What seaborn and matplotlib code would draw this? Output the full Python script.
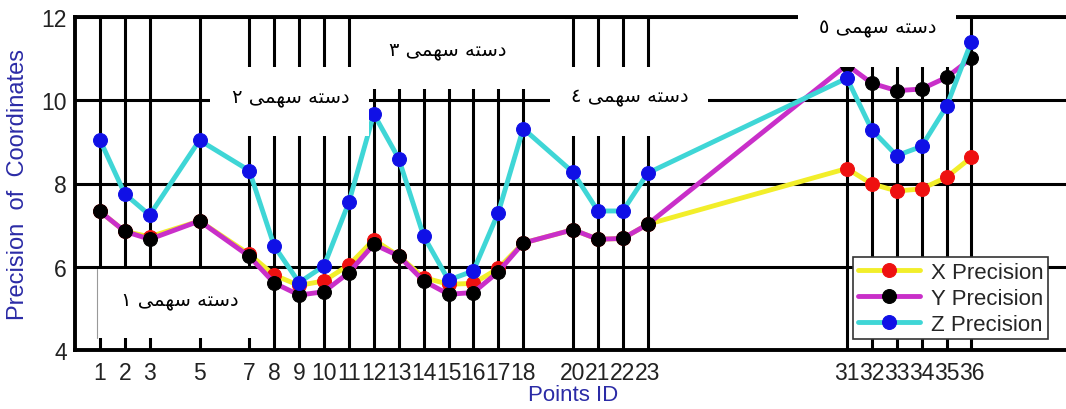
import matplotlib
matplotlib.use("Agg")
import matplotlib.pyplot as plt
import seaborn as sns
import pandas as pd
from matplotlib.patches import Rectangle

# --- DATA ---
point_ids = [1, 2, 3, 5, 7, 8, 9, 10, 11, 12, 13, 14, 15, 16, 17, 18,
             20, 21, 22, 23, 31, 32, 33, 34, 35, 36]
x_precision = [7.33, 6.85, 6.72, 7.10, 6.30, 5.80, 5.55, 5.66, 6.04, 6.65, 6.26, 5.74, 5.58,
               5.60, 5.96, 6.57, 6.89, 6.66, 6.68, 7.02, 8.36, 7.99, 7.82, 7.87, 8.15, 8.63]
y_precision = [7.33, 6.85, 6.66, 7.10, 6.25, 5.61, 5.32, 5.40, 5.86, 6.54, 6.26, 5.66, 5.34,
               5.38, 5.88, 6.57, 6.89, 6.66, 6.68, 7.02, 10.85, 10.41, 10.23, 10.27, 10.55, 11.01]
z_precision = [9.05, 7.75, 7.24, 9.04, 8.31, 6.50, 5.62, 6.02, 7.55, 9.67, 8.60, 6.74, 5.68,
               5.90, 7.30, 9.32, 8.27, 7.34, 7.34, 8.25, 10.53, 9.29, 8.67, 8.89, 9.85, 11.41]
y_ticks = [4, 6, 8, 10, 12]

# group labels and where their white boxes sit (data coords)
group_labels = ["دسته سهمی ١", "دسته سهمی ٢", "دسته سهمی ٣", "دسته سهمی ٤", "دسته سهمی ٥"]
group_text_xy = [(4.22, 5.22), (8.67, 10.1), (14.98, 11.23), (22.29, 10.1), (32.25, 11.74)]
group_boxes = [(0.88, 4.3, 6.43, 1.65), (5.42, 9.14, 6.39, 1.66), (11.81, 10.27, 7.87, 1.68),
               (19.08, 9.14, 6.34, 1.66), (29.04, 10.8, 6.34, 1.65)]

# matplotlib has no arabic shaping, so pick the joined glyph forms by hand
FORMS = {
    'د': ('\ufea9', '\ufeaa', None, None),
    'س': ('\ufeb1', '\ufeb2', '\ufeb3', '\ufeb4'),
    'ت': ('\ufe95', '\ufe96', '\ufe97', '\ufe98'),
    'ه': ('\ufee9', '\ufeea', '\ufeeb', '\ufeec'),
    'م': ('\ufee1', '\ufee2', '\ufee3', '\ufee4'),
    'ی': ('\ufbfc', '\ufbfd', '\ufbfe', '\ufbff'),
}

def shape(text):
    out = []
    for i, ch in enumerate(text):
        if ch not in FORMS:
            out.append(ch)
            continue
        prev = text[i - 1] if i > 0 else ''
        nxt = text[i + 1] if i + 1 < len(text) else ''
        joins_prev = prev in FORMS and FORMS[prev][2] is not None
        joins_next = nxt in FORMS and FORMS[ch][2] is not None
        iso, fin, ini, med = FORMS[ch]
        if joins_prev and joins_next:
            out.append(med)
        elif joins_prev:
            out.append(fin)
        elif joins_next:
            out.append(ini)
        else:
            out.append(iso)
    return ''.join(out)[::-1]


df = pd.DataFrame({'id': point_ids, 'X Precision': x_precision,
                   'Y Precision': y_precision, 'Z Precision': z_precision})

sns.set_theme(style="white")
plt.rcParams['font.family'] = ['Liberation Sans', 'DejaVu Sans']

fig = plt.figure(figsize=(10.66, 4.10), dpi=100)
ax = fig.add_axes([75 / 1066, 59 / 410, 996 / 1066, 333 / 410])

styles = [('X Precision', '#f2ee2a', '#ee1010'),
          ('Y Precision', '#c92fc9', '#000000'),
          ('Z Precision', '#3fd6d6', '#1010e6')]
for col, line_c, mark_c in styles:
    sns.lineplot(data=df, x='id', y=col, ax=ax, color=line_c, linewidth=3.5,
                 marker='o', markersize=10, markerfacecolor=mark_c,
                 markeredgecolor=mark_c, label=col, zorder=3)

ax.set_xlim(0, 40)
ax.set_ylim(4, 12)
ax.set_xticks(point_ids)
ax.set_xticklabels([str(i) for i in point_ids])
ax.set_yticks(y_ticks)
ax.set_axisbelow(True)
ax.grid(True, color='black', linewidth=2.2)
ax.tick_params(axis='both', direction='in', length=8, width=3, color='black',
               labelsize=16.5, labelcolor='#222222')
ax.tick_params(axis='x', pad=8)
ax.tick_params(axis='y', pad=6)
for side in ['left', 'bottom', 'top']:
    ax.spines[side].set_color('black')
    ax.spines[side].set_linewidth(2.8)
ax.spines['right'].set_visible(False)

ax.set_xlabel('Points ID', fontsize=16, color='#2b2ba6', labelpad=0)
ax.set_ylabel('Precision  of  Coordinates', fontsize=17, color='#2b2ba6', labelpad=9)

# white label boxes over the grid
for (bx, by, bw, bh), label, (tx, ty) in zip(group_boxes, group_labels, group_text_xy):
    ax.add_patch(Rectangle((bx, by), bw, bh, facecolor='white', edgecolor='none',
                           zorder=4, clip_on=False))
    ax.text(tx, ty, shape(label), ha='center', va='center', fontsize=14,
            family=['DejaVu Sans'], color='black', zorder=5)
# thin grey edge on the left of the first box
ax.plot([group_boxes[0][0]] * 2, [group_boxes[0][1], group_boxes[0][1] + group_boxes[0][3]],
        color='#999999', linewidth=0.8, zorder=5)

leg = ax.legend(loc='lower right', bbox_to_anchor=(0.977, 0.033), fontsize=16,
                frameon=True, fancybox=False, framealpha=1, edgecolor='#333333',
                handlelength=2.8, labelspacing=0.22, borderpad=0.2, handletextpad=0.5,
                borderaxespad=0)
leg.get_frame().set_linewidth(1.2)
leg.set_zorder(6)

fig.savefig('out.png', dpi=100, facecolor='white')
